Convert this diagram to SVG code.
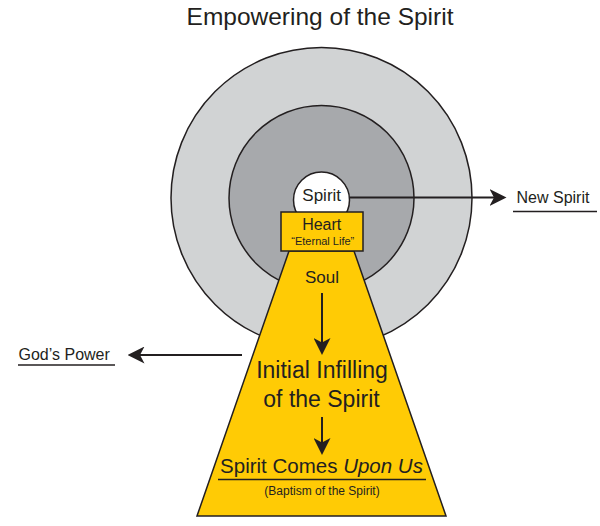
<svg xmlns="http://www.w3.org/2000/svg" width="600" height="526" viewBox="0 0 600 526">
<style>
text{font-family:"Liberation Sans",Arial,sans-serif;fill:#231f20}
.shape{stroke:#231f20;stroke-width:1.5}
.conn{stroke:#231f20;stroke-width:2;fill:none}
.ul{stroke:#231f20;stroke-width:1.5}
</style>
<defs>
<marker id="ah" viewBox="0 0 17 17" refX="14" refY="8.5" markerWidth="17" markerHeight="17" markerUnits="userSpaceOnUse" orient="auto">
<path d="M17,8.5 L0,0 L4.5,8.5 L0,17 Z" fill="#231f20"/>
</marker>
</defs>
<rect width="600" height="526" fill="#fff"/>
<text x="320" y="25" font-size="24.5" text-anchor="middle">Empowering of the Spirit</text>
<g id="outer"><circle class="shape" cx="321.5" cy="198" r="150.5" fill="#d1d3d4"/></g>
<g id="middle"><circle class="shape" cx="321.5" cy="198" r="92.5" fill="#a7a9ac"/></g>
<g id="soul">
<polygon class="shape" points="289,251 354,251 446,516 197,516" fill="#ffcb05"/>
<text x="322" y="283" font-size="17" text-anchor="middle">Soul</text>
</g>
<g id="spirit">
<circle class="shape" cx="321.5" cy="200" r="28" fill="#fff"/>
<text x="321.7" y="201" font-size="17" text-anchor="middle">Spirit</text>
</g>
<g id="heart">
<rect class="shape" x="281" y="212" width="82" height="39" fill="#ffcb05"/>
<text x="321.7" y="230" font-size="16" text-anchor="middle">Heart</text>
<text x="322.8" y="245" font-size="11" text-anchor="middle">“Eternal Life”</text>
</g>
<g id="infilling">
<text x="322" y="378" font-size="23" text-anchor="middle">Initial Infilling</text>
<text x="321.5" y="407" font-size="23" text-anchor="middle">of the Spirit</text>
</g>
<g id="upon">
<text x="321.5" y="473" font-size="20.5" text-anchor="middle">Spirit Comes <tspan font-style="italic">Upon Us</tspan></text>
<line class="ul" x1="218" y1="479.5" x2="426" y2="479.5"/>
<text x="322" y="495" font-size="12" text-anchor="middle">(Baptism of the Spirit)</text>
</g>
<g id="newspirit">
<text x="516.5" y="203" font-size="16">New Spirit</text>
<line class="ul" x1="513" y1="211.5" x2="597" y2="211.5" stroke="#555"/>
</g>
<g id="godspower">
<text x="18.5" y="359.5" font-size="16">God’s Power</text>
<line class="ul" x1="18" y1="365" x2="115" y2="365"/>
</g>
<g id="connectors">
<line class="conn" x1="349.5" y1="197.5" x2="503.5" y2="197.5" marker-end="url(#ah)"/>
<line class="conn" x1="242" y1="355" x2="130.5" y2="355" marker-end="url(#ah)"/>
<line class="conn" x1="322" y1="293" x2="322" y2="352" marker-end="url(#ah)"/>
<line class="conn" x1="322" y1="417" x2="322" y2="452" marker-end="url(#ah)"/>
</g>
</svg>
